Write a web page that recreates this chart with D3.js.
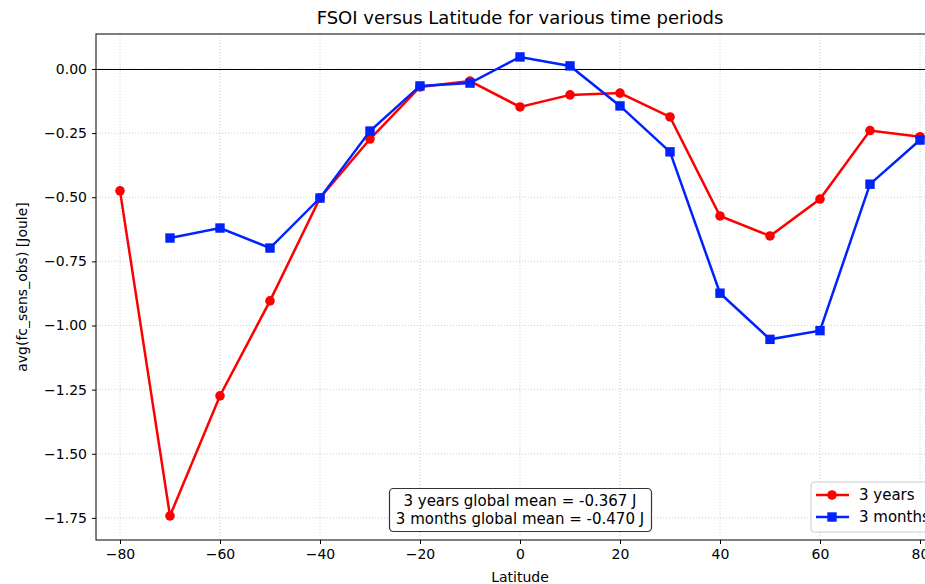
<!DOCTYPE html>
<html><head><meta charset="utf-8">
<script src="https://cdn.jsdelivr.net/npm/d3@7"></script>
<style>body{margin:0;background:#fff}svg{display:block;font-family:"DejaVu Sans",sans-serif}</style>
</head><body><svg id="c" width="925" height="584"></svg>
<script>
const latYears = [-80,-70,-60,-50,-40,-30,-20,-10,0,10,20,30,40,50,60,70,80];
const valYears = [-0.475,-1.742,-1.274,-0.904,-0.503,-0.273,-0.070,-0.047,-0.148,-0.101,-0.094,-0.187,-0.573,-0.651,-0.507,-0.240,-0.264];
const latMonths = [-70,-60,-50,-40,-30,-20,-10,0,10,20,30,40,50,60,70,80];
const valMonths = [-0.659,-0.620,-0.698,-0.503,-0.242,-0.066,-0.055,0.047,0.012,-0.144,-0.323,-0.874,-1.054,-1.020,-0.449,-0.277];
const xTicks = [-80,-60,-40,-20,0,20,40,60,80];
const yTicks = [0,-0.25,-0.5,-0.75,-1.0,-1.25,-1.5,-1.75];
const seriesNames = ["3 years","3 months"];
const meanText = ["3 years global mean = -0.367 J","3 months global mean = -0.470 J"];

const svg = d3.select("#c");
const L=96, R=944, T=34, B=540;
const x = d3.scaleLinear().domain([-84.8,84.8]).range([L,R]);
const y = d3.scaleLinear().domain([0.1364,-1.8362]).range([T,B]);
const fmtY = d => d3.format(".2f")(d).replace("-","\u2212");
const fmtX = d => String(d).replace("-","\u2212");

// grid
const g = svg.append("g");
g.selectAll(".gx").data(xTicks).join("line").attr("x1",d=>x(d)).attr("x2",d=>x(d)).attr("y1",T).attr("y2",B)
 .attr("stroke","#b0b0b0").attr("stroke-width",0.8).attr("stroke-dasharray","1,2").attr("opacity",0.8);
g.selectAll(".gy").data(yTicks).join("line").attr("y1",d=>y(d)).attr("y2",d=>y(d)).attr("x1",L).attr("x2",R)
 .attr("stroke","#b0b0b0").attr("stroke-width",0.8).attr("stroke-dasharray","1,2").attr("opacity",0.8);
// zero line
svg.append("line").attr("x1",L).attr("x2",R).attr("y1",Math.round(y(0))+0.5).attr("y2",Math.round(y(0))+0.5).attr("stroke","#000").attr("stroke-width",1.1);

// axes
const ax = svg.append("g").attr("transform",`translate(0,${B})`)
 .call(d3.axisBottom(x).tickValues(xTicks).tickFormat(fmtX).tickSize(4).tickPadding(5));
const ay = svg.append("g").attr("transform",`translate(${L},0)`)
 .call(d3.axisLeft(y).tickValues(yTicks).tickFormat(fmtY).tickSize(4).tickPadding(5));
[ax,ay].forEach(a=>{a.select(".domain").remove();a.selectAll("text").attr("font-size",14).attr("font-family","DejaVu Sans").attr("fill","#000");a.selectAll("line").attr("stroke","#000").attr("stroke-width",1);});
// spines
svg.append("rect").attr("x",L).attr("y",T).attr("width",R-L).attr("height",B-T).attr("fill","none").attr("stroke","#000").attr("stroke-width",1);

const line = d3.line().x(d=>x(d[0])).y(d=>y(d[1]));
const dY = latYears.map((l,i)=>[l,valYears[i]]);
const dM = latMonths.map((l,i)=>[l,valMonths[i]]);
svg.append("path").datum(dY).attr("d",line).attr("fill","none").attr("stroke","#ff0000").attr("stroke-width",2.5);
svg.selectAll(".cy").data(dY).join("circle").attr("cx",d=>x(d[0])).attr("cy",d=>y(d[1])).attr("r",4.8).attr("fill","#ff0000");
svg.append("path").datum(dM).attr("d",line).attr("fill","none").attr("stroke","#0022ff").attr("stroke-width",2.5);
svg.selectAll(".sm").data(dM).join("rect").attr("x",d=>x(d[0])-4.7).attr("y",d=>y(d[1])-4.7).attr("width",9.4).attr("height",9.4).attr("fill","#0022ff");

// title, labels
svg.append("text").attr("x",520).attr("y",24).attr("text-anchor","middle").attr("font-size",18).text("FSOI versus Latitude for various time periods");
svg.append("text").attr("x",520).attr("y",582).attr("text-anchor","middle").attr("font-size",14).text("Latitude");
svg.append("text").attr("transform",`translate(27,${(T+B)/2}) rotate(-90)`).attr("text-anchor","middle").attr("font-size",14).text("avg(fc_sens_obs) [Joule]");

// mean box
svg.append("rect").attr("x",389.5).attr("y",488.5).attr("width",262).attr("height",43).attr("rx",4)
 .attr("fill","#fff").attr("stroke","#333").attr("stroke-width",1.2);
meanText.forEach((t,i)=>svg.append("text").attr("x",520).attr("y",506+i*18).attr("text-anchor","middle").attr("font-size",15).text(t));

// legend
const lg = svg.append("g");
lg.append("rect").attr("x",811).attr("y",482).attr("width",126).attr("height",50).attr("rx",3)
 .attr("fill","#fff").attr("fill-opacity",0.8).attr("stroke","#ccc");
const cols=["#ff0000","#0022ff"];
seriesNames.forEach((n,i)=>{
  const yy=495+i*22;
  lg.append("line").attr("x1",816).attr("x2",849).attr("y1",yy).attr("y2",yy).attr("stroke",cols[i]).attr("stroke-width",2.5);
  if(i===0) lg.append("circle").attr("cx",832).attr("cy",yy).attr("r",4.8).attr("fill",cols[i]);
  else lg.append("rect").attr("x",832-4.7).attr("y",yy-4.7).attr("width",9.4).attr("height",9.4).attr("fill",cols[i]);
  lg.append("text").attr("x",859).attr("y",yy+5).attr("font-size",15).text(n);
});
</script></body></html>
